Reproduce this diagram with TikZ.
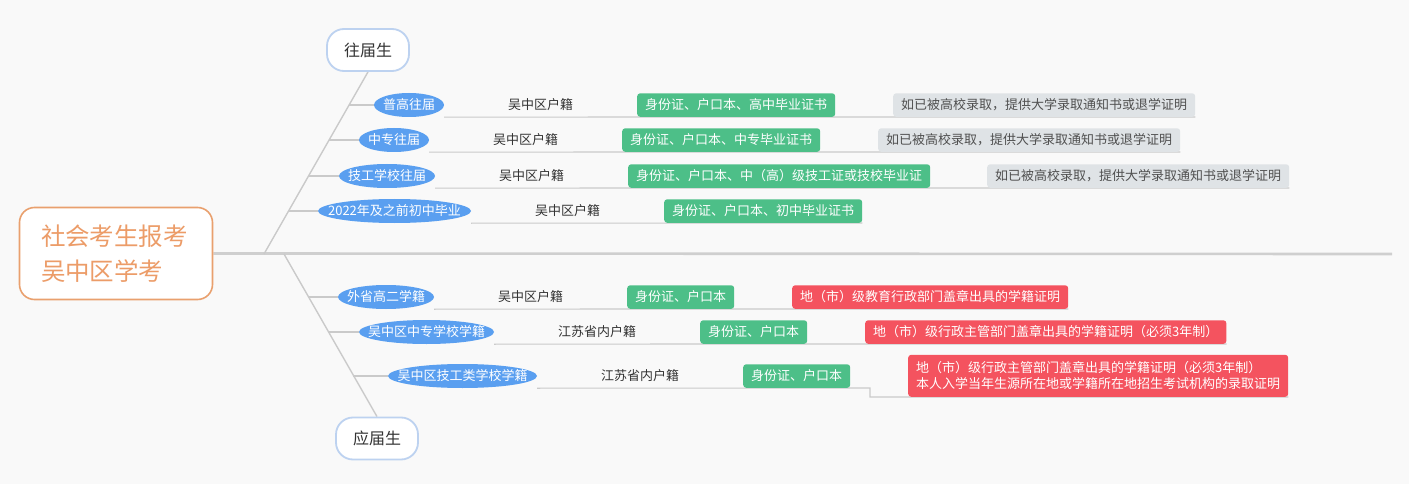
\documentclass[tikz,border=0pt]{standalone}
\usepackage{fontspec}
\newfontfamily\cjk{Noto Sans CJK SC}
\usetikzlibrary{shapes.geometric}
\definecolor{bgc}{HTML}{F9F9F9}
\definecolor{orangeb}{HTML}{E9A06E}
\definecolor{oranget}{HTML}{EC9C68}
\definecolor{ellblue}{HTML}{5A9FF0}
\definecolor{greenb}{HTML}{4DBF88}
\definecolor{grayb}{HTML}{DFE3E6}
\definecolor{grayt}{HTML}{505050}
\definecolor{redb}{HTML}{F4535F}
\definecolor{linec}{HTML}{CACACA}
\definecolor{pillc}{HTML}{BDD2F0}
\definecolor{txt}{HTML}{333333}
\pgfdeclarelayer{bgfill}
\pgfdeclarelayer{bglines}
\pgfsetlayers{bgfill,bglines,main}
\begin{document}
\begin{tikzpicture}[x=1pt,y=-1pt,
  root/.style={draw=orangeb, line width=1.6pt, fill=white, rounded corners=15pt,
    minimum width=193pt, minimum height=92pt, inner xsep=0pt, text width=150pt,
    align=left, text=oranget, font=\cjk\fontsize{24.5}{35}\selectfont},
  pill/.style={draw=pillc, line width=1.8pt, fill=white, rounded corners=17pt,
    minimum width=82pt, minimum height=42pt, inner sep=0pt, text=txt,
    font=\cjk\fontsize{16}{18}\selectfont},
  ell/.style={shape=ellipse, fill=ellblue, inner sep=0pt, minimum height=24pt,
    minimum width=#1, text=white, font=\cjk\fontsize{13}{15}\selectfont},
  lbl/.style={text=txt, inner sep=0pt, font=\cjk\fontsize{13}{15}\selectfont},
  tagbase/.style={rounded corners=3pt, inner xsep=8pt, inner ysep=0pt,
    minimum height=23.5pt, font=\cjk\fontsize{13}{16}\selectfont, anchor=south west},
  tagbox/.style={tagbase, text height=11pt, text depth=1.5pt},
  gbox/.style={tagbox, fill=greenb, text=white},
  nbox/.style={tagbox, fill=grayb, text=grayt},
  rbox/.style={tagbox, fill=redb, text=white},
  rbox2/.style={tagbase, fill=redb, text=white, align=left, minimum height=42pt, inner ysep=4pt},
  conn/.style={draw=linec, line width=1.1pt},
  trunk/.style={draw=linec, line width=1.4pt},
  mainl/.style={draw=linec!90!white, line width=2.6pt}
]
\begin{pgfonlayer}{bgfill}
\fill[bgc] (0,0) rectangle (1409,484);
\end{pgfonlayer}
\useasboundingbox (0,0) rectangle (1409,484);

% root and main line
\node[root] (root) at (116,253.5) {社会考生报考\\吴中区学考};
\coordinate (mend) at (1392,254);
\coordinate (t1) at (264,254);
\coordinate (t2) at (284,254);

\node[pill] (wjs) at (368,50) {往届生};
\node[pill] (yjs) at (377,438.5) {应届生};

% upper rows
\node[ell=70pt] (e1) at (409,105) {\makebox[0pt]{普高往届}};
\node[lbl] (h1) at (540.5,105) {吴中区户籍};
\node[gbox] (g1) at (637,117) {身份证、户口本、高中毕业证书};
\node[nbox] (n1) at (893,117) {如已被高校录取，提供大学录取通知书或退学证明};

\node[ell=70pt] (e2) at (394,140) {\makebox[0pt]{中专往届}};
\node[lbl] (h2) at (525.5,140) {吴中区户籍};
\node[gbox] (g2) at (622,152) {身份证、户口本、中专毕业证书};
\node[nbox] (n2) at (878,152) {如已被高校录取，提供大学录取通知书或退学证明};

\node[ell=96pt] (e3) at (387,176) {\makebox[0pt]{技工学校往届}};
\node[lbl] (h3) at (531.5,176) {吴中区户籍};
\node[gbox] (g3) at (628,188) {身份证、户口本、中（高）级技工证或技校毕业证};
\node[nbox] (n3) at (987,188) {如已被高校录取，提供大学录取通知书或退学证明};

\node[ell=153pt] (e4) at (394.5,211) {\makebox[0pt]{2022年及之前初中毕业}};
\node[lbl] (h4) at (567.5,211) {吴中区户籍};
\node[gbox] (g4) at (664,223) {身份证、户口本、初中毕业证书};

% lower rows
\node[ell=96pt] (e5) at (386,297) {\makebox[0pt]{外省高二学籍}};
\node[lbl] (h5) at (530.5,297) {吴中区户籍};
\node[gbox] (g5) at (627,309) {身份证、户口本};
\node[rbox] (r5) at (792,309) {地（市）级教育行政部门盖章出具的学籍证明};

\node[ell=135pt] (e6) at (426.5,332) {\makebox[0pt]{吴中区中专学校学籍}};
\node[lbl] (h6) at (597,332) {江苏省内户籍};
\node[gbox] (g6) at (700,344) {身份证、户口本};
\node[rbox] (r6) at (865,344) {地（市）级行政主管部门盖章出具的学籍证明（必须3年制）};

\node[ell=149pt] (e7) at (462.5,376) {\makebox[0pt]{吴中区技工类学校学籍}};
\node[lbl] (h7) at (640,376) {江苏省内户籍};
\node[gbox] (g7) at (743,388) {身份证、户口本};
\node[rbox2] (r7) at (908,397)
  {地（市）级行政主管部门盖章出具的学籍证明（必须3年制）\\本人入学当年生源所在地或学籍所在地招生考试机构的录取证明};

% stub coordinates on trunks
\coordinate (s1) at (348.7,105);
\coordinate (s2) at (328.8,140);
\coordinate (s3) at (308.3,176);
\coordinate (s4) at (288.4,211);
\coordinate (s5) at (308.5,297);
\coordinate (s6) at (328.4,332);
\coordinate (s7) at (353.4,376);
\coordinate (k7) at (870,388);

\begin{pgfonlayer}{bglines}
\draw[mainl] (root.east) -- (mend);
\draw[trunk] (t1) -- (wjs.south);
\draw[trunk] (t2) -- (yjs.north);
\foreach \i in {1,...,7} { \draw[conn] (s\i) -- (e\i.west); }
\draw[conn] (e1.east |- e1.south) -- (g1.south west) -- (n1.south east);
\draw[conn] (e2.east |- e2.south) -- (g2.south west) -- (n2.south east);
\draw[conn] (e3.east |- e3.south) -- (g3.south west) -- (n3.south east);
\draw[conn] (e4.east |- e4.south) -- (g4.south east);
\draw[conn] (e5.east |- e5.south) -- (g5.south west) -- (r5.south east);
\draw[conn] (e6.east |- e6.south) -- (g6.south west) -- (r6.south east);
\draw[conn] (e7.east |- e7.south) -- (g7.south east) -- (k7) |- (r7.south west) -- (r7.south east);
\end{pgfonlayer}
\end{tikzpicture}
\end{document}
